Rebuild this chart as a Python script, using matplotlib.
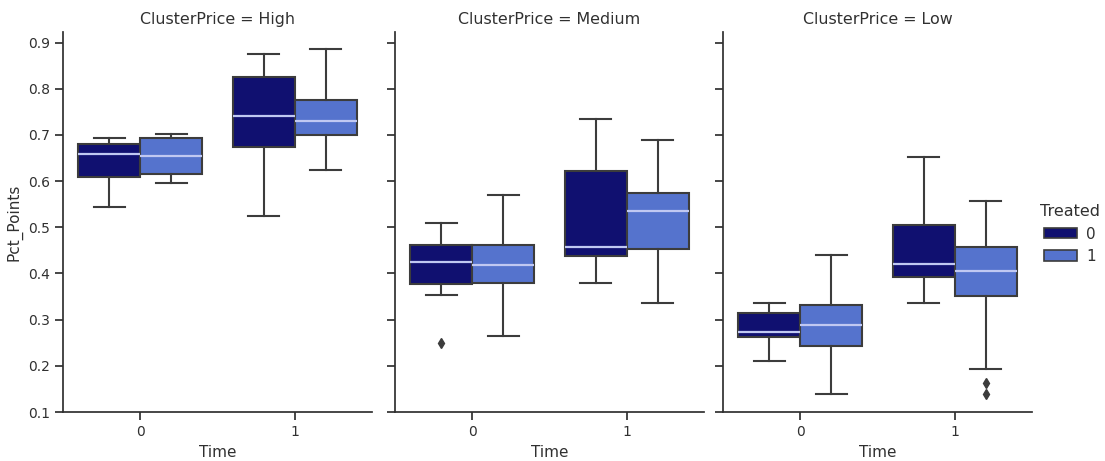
import matplotlib
matplotlib.use("Agg")
import matplotlib.pyplot as plt
from matplotlib.patches import Patch

clusters = ["High", "Medium", "Low"]
time_levels = [0, 1]
treated_levels = [0, 1]
treated_colors = ["#101070", "#5573cd"]

# Box statistics indexed [cluster][time][treated]
whis_hi = [[[0.693, 0.703], [0.876, 0.886]],
           [[0.509, 0.569], [0.735, 0.690]],
           [[0.336, 0.439], [0.652, 0.556]]]
q3 = [[[0.681, 0.693], [0.825, 0.775]],
      [[0.461, 0.461], [0.623, 0.575]],
      [[0.314, 0.331], [0.504, 0.457]]]
med = [[[0.658, 0.654], [0.742, 0.731]],
       [[0.424, 0.418], [0.457, 0.535]],
       [[0.274, 0.288], [0.421, 0.405]]]
q1 = [[[0.609, 0.615], [0.675, 0.699]],
      [[0.377, 0.380], [0.438, 0.453]],
      [[0.262, 0.243], [0.392, 0.351]]]
whis_lo = [[[0.543, 0.596], [0.524, 0.625]],
           [[0.354, 0.264], [0.380, 0.336]],
           [[0.211, 0.139], [0.336, 0.194]]]
fliers = [[[[], []], [[], []]],
          [[[0.250], []], [[], []]],
          [[[], []], [[], [0.163, 0.138]]]]
y_ticks = [0.1, 0.2, 0.3, 0.4, 0.5, 0.6, 0.7, 0.8, 0.9]

text_color = "#303030"
edge_color = "#3c3c3c"
plt.rcParams.update({
    "font.family": "DejaVu Sans",
    "font.size": 10,
    "text.color": text_color,
    "axes.labelcolor": text_color,
    "xtick.color": text_color,
    "ytick.color": text_color,
})

fig = plt.figure(figsize=(11.05, 4.61), dpi=100)
lefts = [63 / 1105, 395 / 1105, 723 / 1105]
width = 309 / 1105
bottom = 1 - 412 / 461
height = (412 - 32.5) / 461

axes = []
for ci, cname in enumerate(clusters):
    ax = fig.add_axes([lefts[ci], bottom, width, height],
                      sharey=axes[0] if axes else None)
    axes.append(ax)
    for ti, t in enumerate(time_levels):
        for hi, h in enumerate(treated_levels):
            stats = [dict(med=med[ci][ti][hi], q1=q1[ci][ti][hi], q3=q3[ci][ti][hi],
                          whislo=whis_lo[ci][ti][hi], whishi=whis_hi[ci][ti][hi],
                          fliers=fliers[ci][ti][hi])]
            pos = t + (-0.2 if hi == 0 else 0.2)
            ax.bxp(stats, positions=[pos], widths=0.4, patch_artist=True,
                   manage_ticks=False,
                   boxprops=dict(facecolor=treated_colors[hi], edgecolor=edge_color, linewidth=1.5),
                   medianprops=dict(color="#c0c8f2", linewidth=1.6),
                   whiskerprops=dict(color=edge_color, linewidth=1.5),
                   capprops=dict(color=edge_color, linewidth=1.5),
                   flierprops=dict(marker="d", markerfacecolor=edge_color,
                                   markeredgecolor=edge_color, markersize=5))
    ax.set_xlim(-0.5, 1.5)
    ax.set_ylim(0.1, 0.922)
    ax.set_xticks(time_levels)
    ax.set_xticklabels([str(t) for t in time_levels], fontsize=10)
    ax.set_yticks(y_ticks)
    ax.set_xlabel("Time", fontsize=11)
    ax.set_title(f"ClusterPrice = {cname}", color=text_color, fontsize=11.4)
    for s in ["top", "right"]:
        ax.spines[s].set_visible(False)
    for s in ["left", "bottom"]:
        ax.spines[s].set_linewidth(1.25)
        ax.spines[s].set_color(text_color)
    ax.tick_params(width=1.25, length=6)
    if ci == 0:
        ax.set_ylabel("Pct_Points", fontsize=11)
        ax.set_yticklabels([f"{v:.1f}" for v in y_ticks], fontsize=10)
    else:
        ax.tick_params(labelleft=False)

handles = [Patch(facecolor=treated_colors[i], edgecolor=edge_color, linewidth=1.2)
           for i in range(len(treated_levels))]
fig.legend(handles, [str(t) for t in treated_levels], title="Treated",
           loc="center left", bbox_to_anchor=(1026 / 1105, 1 - 234 / 461),
           frameon=False, handlelength=2.2, handletextpad=0.6,
           fontsize=11, title_fontsize=11.5)

fig.savefig("out.png", dpi=100)
